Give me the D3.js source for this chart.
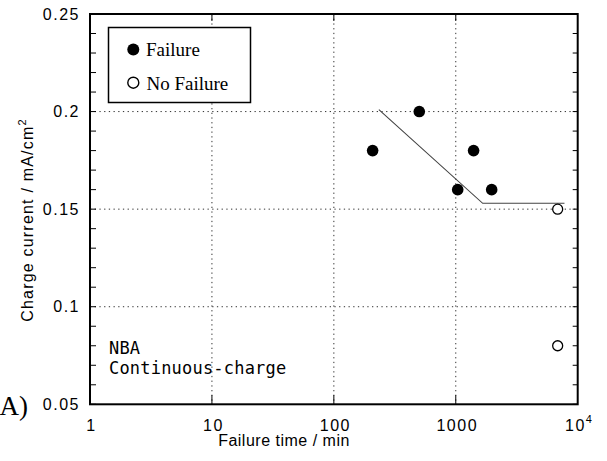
<!DOCTYPE html>
<html>
<head>
<meta charset="utf-8">
<script src="https://cdn.jsdelivr.net/npm/d3@7"></script>
<style>
  html, body { margin: 0; padding: 0; background: #fff; }
  svg { display: block; }
</style>
</head>
<body>
<svg id="chart" width="607" height="461"></svg>
<script>
// Failure data: charge current vs. failure time (log scale)
const failureTime = [208, 502, 1037, 1400, 1970];
const failureCurrent = [0.180, 0.200, 0.160, 0.180, 0.160];
const noFailureTime = [6850, 6850];
const noFailureCurrent = [0.150, 0.080];
// Trend line (guide drawn through the failure data)
const trendTime = [234, 1663, 7790];
const trendCurrent = [0.201, 0.153, 0.153];
// Axis ticks
const xTickValues = [1, 10, 100, 1000, 10000];
const xTickLabels = ["1", "10", "100", "1000", "10^4"];
const yTickValues = [0.05, 0.1, 0.15, 0.2, 0.25];
const yTickLabels = ["0.05", "0.1", "0.15", "0.2", "0.25"];
const yMinorTicks = d3.range(5, 26).map(v => v / 100);

const svg = d3.select("#chart");
const m = { left: 90, top: 14, right: 577.7, bottom: 404.3 };

const x = d3.scaleLog().domain([1, 10000]).range([m.left, m.right]);
const y = d3.scaleLinear().domain([0.05, 0.25]).range([m.bottom, m.top]);

const sans = "'Liberation Sans', Arial, sans-serif";
const serif = "'Liberation Serif', 'Times New Roman', serif";
const mono = "'DejaVu Sans Mono', monospace";

// Dotted grid
const grid = svg.append("g").attr("stroke", "#333").attr("stroke-width", 1)
  .attr("stroke-dasharray", "1.3,3.4").attr("fill", "none");
grid.selectAll("line.v").data(xTickValues.slice(1, -1)).join("line")
  .attr("x1", d => x(d)).attr("x2", d => x(d))
  .attr("y1", m.top).attr("y2", m.bottom);
grid.selectAll("line.h").data(yTickValues.slice(1, -1)).join("line")
  .attr("x1", m.left).attr("x2", m.right)
  .attr("y1", d => y(d)).attr("y2", d => y(d));

// Inward tick marks
const ticks = svg.append("g").attr("stroke", "#000").attr("stroke-width", 1);
ticks.selectAll("line.l").data(yMinorTicks).join("line")
  .attr("x1", m.left).attr("x2", m.left + 6)
  .attr("y1", d => y(d)).attr("y2", d => y(d));
ticks.selectAll("line.r").data(yMinorTicks).join("line")
  .attr("x1", m.right - 5).attr("x2", m.right)
  .attr("y1", d => y(d)).attr("y2", d => y(d));
ticks.selectAll("line.b").data(xTickValues.slice(1, -1)).join("line")
  .attr("x1", d => x(d)).attr("x2", d => x(d))
  .attr("y1", m.bottom).attr("y2", m.bottom - 9);
ticks.selectAll("line.t").data(xTickValues.slice(1, -1)).join("line")
  .attr("x1", d => x(d)).attr("x2", d => x(d))
  .attr("y1", m.top).attr("y2", m.top + 7);

// Frame
svg.append("rect")
  .attr("x", m.left).attr("y", m.top)
  .attr("width", m.right - m.left).attr("height", m.bottom - m.top)
  .attr("fill", "none").attr("stroke", "#000").attr("stroke-width", 2);

// Y tick labels
svg.append("g").selectAll("text").data(yTickValues).join("text")
  .attr("x", 80).attr("y", d => y(d)).attr("dy", "0.36em")
  .attr("text-anchor", "end")
  .attr("font-family", sans).attr("font-size", 16).attr("letter-spacing", 1.5)
  .text((d, i) => yTickLabels[i]);

// X tick labels
const xl = svg.append("g").selectAll("text").data(xTickValues).join("text")
  .attr("x", d => x(d) + 1.5).attr("y", 430.5)
  .attr("text-anchor", "middle")
  .attr("font-family", sans).attr("font-size", 16).attr("letter-spacing", 1.5);
xl.each(function(d, i) {
  const t = d3.select(this);
  const lab = xTickLabels[i];
  if (lab.includes("^")) {
    const [b, e] = lab.split("^");
    t.append("tspan").text(b);
    t.append("tspan").attr("dy", -8).attr("font-size", 11).text(e);
  } else {
    t.text(lab);
  }
});

// Axis titles
svg.append("text")
  .attr("x", 284).attr("y", 446).attr("text-anchor", "middle")
  .attr("font-family", sans).attr("font-size", 16).attr("letter-spacing", 0.5)
  .text("Failure time / min");

const yt = svg.append("text")
  .attr("transform", "translate(33,220) rotate(-90)")
  .attr("text-anchor", "middle")
  .attr("font-family", sans).attr("font-size", 16).attr("letter-spacing", 1.2);
yt.append("tspan").text("Charge current / mA/cm");
yt.append("tspan").attr("dy", -7).attr("font-size", 11).text("2");

// Panel label
svg.append("text")
  .attr("x", 28).attr("y", 415).attr("text-anchor", "end")
  .attr("font-family", serif).attr("font-size", 27)
  .text("(A)");

// Trend line
const line = d3.line().x(d => x(d[0])).y(d => y(d[1]));
svg.append("path")
  .datum(trendTime.map((t, i) => [t, trendCurrent[i]]))
  .attr("d", line)
  .attr("fill", "none").attr("stroke", "#444").attr("stroke-width", 1.1);

// Data points
svg.append("g").selectAll("circle").data(failureTime).join("circle")
  .attr("cx", d => x(d)).attr("cy", (d, i) => y(failureCurrent[i]))
  .attr("r", 5.8).attr("fill", "#000");
svg.append("g").selectAll("circle").data(noFailureTime).join("circle")
  .attr("cx", d => x(d)).attr("cy", (d, i) => y(noFailureCurrent[i]))
  .attr("r", 5).attr("fill", "#fff").attr("stroke", "#000").attr("stroke-width", 1.3);

// Legend
const lg = svg.append("g");
lg.append("rect").attr("x", 108.5).attr("y", 27.5).attr("width", 142).attr("height", 75)
  .attr("fill", "#fff").attr("stroke", "#000").attr("stroke-width", 1.5);
lg.append("circle").attr("cx", 133.3).attr("cy", 49.5).attr("r", 6).attr("fill", "#000");
lg.append("circle").attr("cx", 133.3).attr("cy", 82.7).attr("r", 5.5)
  .attr("fill", "#fff").attr("stroke", "#000").attr("stroke-width", 1.4);
lg.append("text").attr("x", 146).attr("y", 55.5)
  .attr("font-family", serif).attr("font-size", 19).text("Failure");
lg.append("text").attr("x", 146.5).attr("y", 90)
  .attr("font-family", serif).attr("font-size", 19).text("No Failure");

// Annotation
const ann = svg.append("g").attr("font-family", mono).attr("font-size", 17);
ann.append("text").attr("x", 109).attr("y", 354).attr("letter-spacing", 0.2).text("NBA");
ann.append("text").attr("x", 109).attr("y", 373.5).attr("letter-spacing", 0.2).text("Continuous-charge");
</script>
</body>
</html>
